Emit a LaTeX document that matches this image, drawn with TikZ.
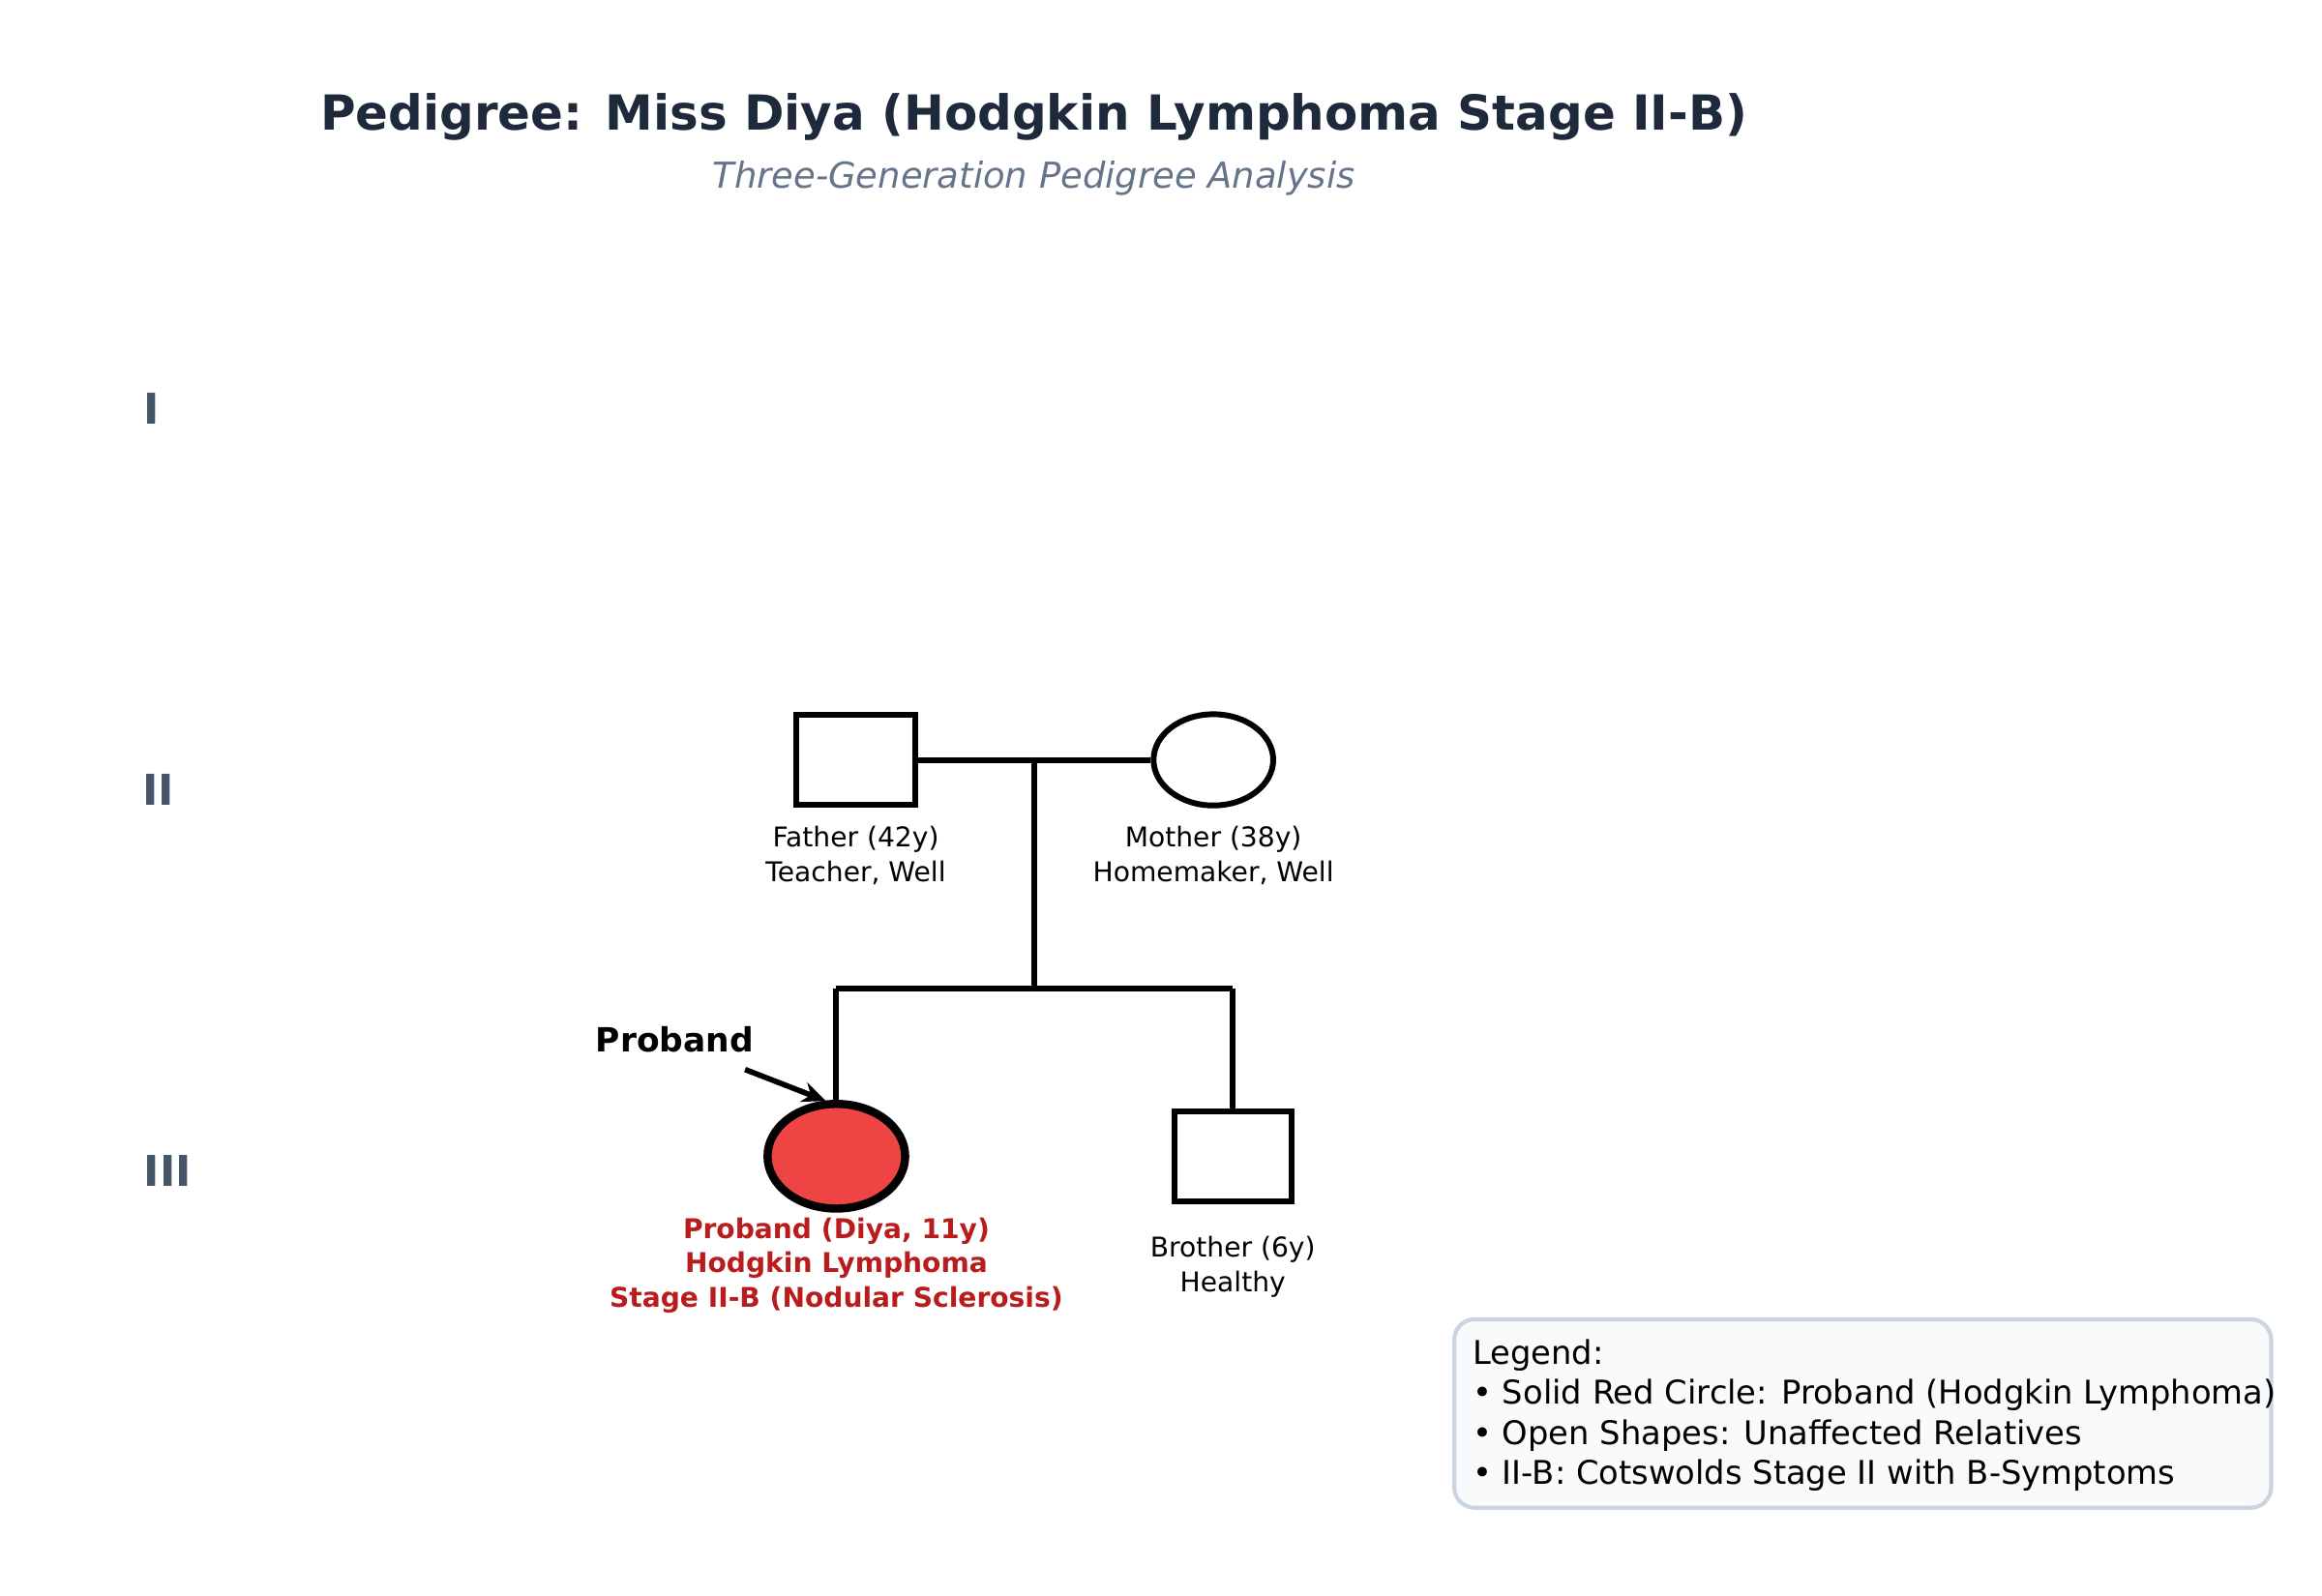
\documentclass[tikz,border=0pt]{standalone}
\usepackage{fontspec}
\setmainfont{DejaVu Sans}
\usetikzlibrary{arrows.meta,shapes.geometric}
\definecolor{titlec}{HTML}{1E293B}
\definecolor{subc}{HTML}{64748B}
\definecolor{genc}{HTML}{475569}
\definecolor{redf}{HTML}{EF4444}
\definecolor{redt}{HTML}{B91C1C}
\definecolor{legf}{HTML}{F8FAFC}
\definecolor{legb}{HTML}{CBD5E1}
\begin{document}
\begin{tikzpicture}[x=0.015464cm,y=-0.015464cm,
  ln/.style={line width=1.7pt,black},
  gen/.style={font=\bfseries\fontsize{12.5}{15}\selectfont,text=genc},
  lab/.style={font=\fontsize{8}{10.2}\selectfont,align=center},
  plab/.style={font=\bfseries\fontsize{8}{10.2}\selectfont,align=center,text=redt}]
\useasboundingbox (0,0) rectangle (1552,1067);
\node[font=\bfseries\fontsize{14.2}{17}\selectfont,text=titlec] (title) at (691,78) {Pedigree: Miss Diya (Hodgkin Lymphoma Stage II-B)};
\node[font=\itshape\fontsize{10.5}{13}\selectfont,text=subc] (sub) at (691,119) {Three-Generation Pedigree Analysis};
\node[gen] (g1) at (101,273) {I};
\node[gen] (g2) at (106,528) {II};
\node[gen] (g3) at (112,783) {III};
\node[ln,draw,fill=white,minimum width=79*0.015464cm,minimum height=60*0.015464cm,inner sep=0] (father) at (572,508) {};
\node[ln,draw,fill=white,ellipse,minimum width=80*0.015464cm,minimum height=61*0.015464cm,inner sep=0] (mother) at (811,508) {};
\coordinate (m) at (691,508);
\coordinate (s) at (691,661);
\coordinate (sl) at (559,661);
\coordinate (sr) at (824,661);
\node[draw,line width=2.4pt,fill=redf,ellipse,minimum width=92*0.015464cm,minimum height=70*0.015464cm,inner sep=0] (proband) at (559,773) {};
\node[ln,draw,fill=white,minimum width=78*0.015464cm,minimum height=60*0.015464cm,inner sep=0] (brother) at (824,773) {};
\draw[ln] (father.east) -- (mother.west);
\draw[ln] (m) -- (s);
\draw[ln] (sl) -- (sr);
\draw[ln] (sl) -- (proband.north);
\draw[ln] (sr) -- (brother.north);
\node[lab] (fl) at (572,572) {Father (42y)\\Teacher, Well};
\node[lab] (ml) at (811,572) {Mother (38y)\\Homemaker, Well};
\node[plab] (pl) at (559,846) {Proband (Diya, 11y)\\Hodgkin Lymphoma\\Stage II-B (Nodular Sclerosis)};
\node[lab] (bl) at (824,847) {Brother (6y)\\Healthy};
\node[font=\bfseries\fontsize{9.8}{12}\selectfont] (pt) at (451,695) {Proband};
\coordinate (a0) at (498,715);
\draw[line width=1.6pt,-{Stealth[length=7pt,width=6pt]}] (a0) -- (552,736);
\draw[rounded corners=6pt,fill=legf,draw=legb,line width=1.2pt] (972,882) rectangle (1518,1008);
\node[anchor=north west,align=left,font=\fontsize{9.6}{11.8}\selectfont,inner sep=0] (leg) at (984,895) {Legend:\\• Solid Red Circle: Proband (Hodgkin Lymphoma)\\• Open Shapes: Unaffected Relatives\\• II-B: Cotswolds Stage II with B-Symptoms};
\end{tikzpicture}
\end{document}
